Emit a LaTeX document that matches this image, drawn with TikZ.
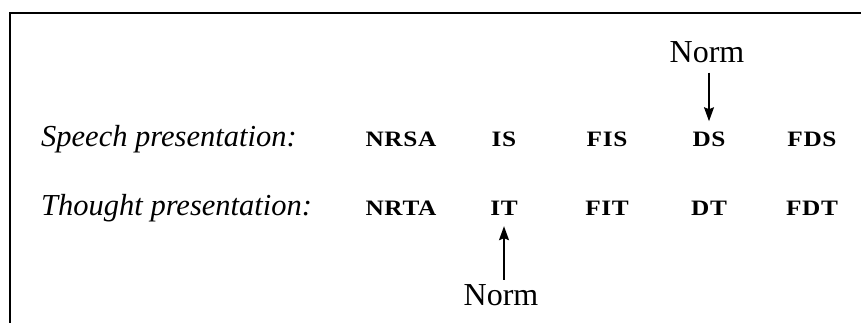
\documentclass[tikz,border=0pt]{standalone}
\usepackage{fontspec}
\setmainfont{Liberation Serif}
\newfontfamily\catfont[FakeStretch=1.15, LetterSpace=3]{Liberation Serif}
\usetikzlibrary{arrows.meta}
\begin{document}
\begin{tikzpicture}[x=1pt,y=-1pt,
  txt/.style={inner sep=0pt, anchor=base, font=\fontsize{32}{38}\selectfont},
  lab/.style={txt, anchor=base west, font=\fontsize{30.5}{36}\selectfont\itshape},
  cat/.style={txt, font=\catfont\fontsize{22}{26}\selectfont\bfseries},
  normarrow/.style={line width=1.4pt, -{Stealth[length=14pt,width=10pt,inset=2pt]}}]
\useasboundingbox (0,0) rectangle (861,323);
% open frame: only the top and left edges fall inside the page
\draw[line width=2.2pt] (10,340) -- (10,13) -- (880,13);

% row labels
\node[lab] (speech)  at (41,147) {Speech presentation:};
\node[lab] (thought) at (41,215) {Thought presentation:};

% speech categories
\node[cat] (nrsa) at (401,147) {NRSA};
\node[cat] (is)   at (504,147) {IS};
\node[cat] (fis)  at (607,147) {FIS};
\node[cat] (ds)   at (709,147) {DS};
\node[cat] (fds)  at (812,147) {FDS};

% thought categories
\node[cat] (nrta) at (401,215) {NRTA};
\node[cat] (it)   at (504,215) {IT};
\node[cat] (fit)  at (607,215) {FIT};
\node[cat] (dt)   at (709,215) {DT};
\node[cat] (fdt)  at (812,215) {FDT};

% norm markers
\node[txt] (normtop) at (707,63) {Norm};
\node[txt] (normbot) at (501,305) {Norm};

\draw[normarrow, shorten <=9pt, shorten >=11pt] (normtop.south -| ds.north) -- (ds.north);
\draw[normarrow, shorten <=4pt, shorten >=11pt] (normbot.north -| it.south) -- (it.south);
\end{tikzpicture}
\end{document}
